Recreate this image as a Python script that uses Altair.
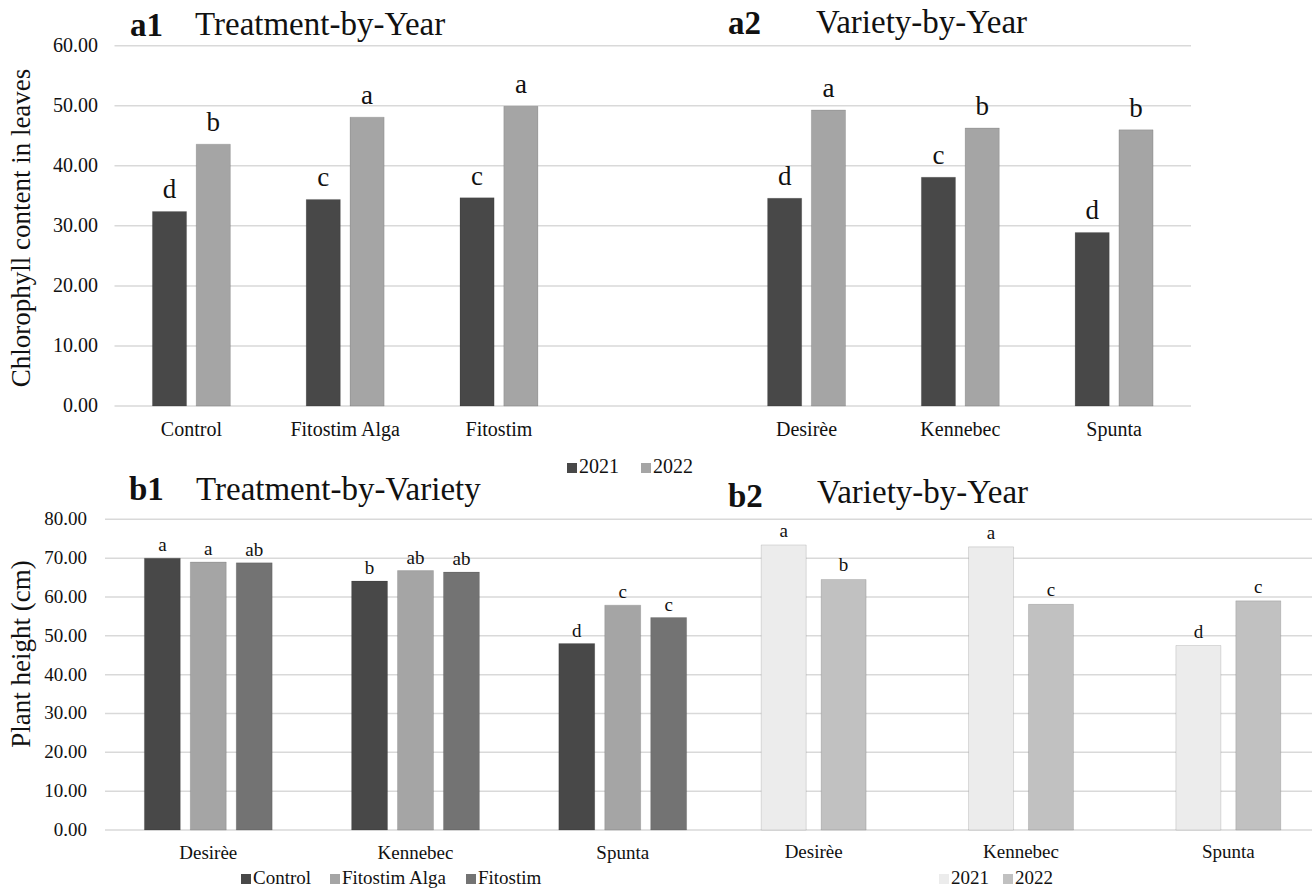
import altair as alt
import pandas as pd

FONT = "Liberation Serif"
INK = "#111111"
GRID = "#d9d9d9"

# ---- Panel a: chlorophyll content in leaves, 2021 vs 2022 ----
a_categories = ["Control", "Fitostim Alga", "Fitostim", "Desirèe", "Kennebec", "Spunta"]
a_years = ["2021", "2022"]
chl_2021 = [32.4, 34.4, 34.7, 34.6, 38.1, 28.9]
chl_2022 = [43.6, 48.1, 49.9, 49.3, 46.3, 46.0]
chl_letters_2021 = ["d", "c", "c", "d", "c", "d"]
chl_letters_2022 = ["b", "a", "a", "a", "b", "b"]
chl_ticks = [0, 10, 20, 30, 40, 50, 60]

# ---- Panel b1: plant height by variety and treatment ----
varieties = ["Desirèe", "Kennebec", "Spunta"]
treatments = ["Control", "Fitostim Alga", "Fitostim"]
ht_control = [70.0, 64.1, 48.0]
ht_alga = [69.0, 66.8, 57.9]
ht_fitostim = [68.8, 66.4, 54.7]
ht_letters_control = ["a", "b", "d"]
ht_letters_alga = ["a", "ab", "c"]
ht_letters_fitostim = ["ab", "ab", "c"]

# ---- Panel b2: plant height by variety and year ----
b_years = ["2021", "2022"]
ht_2021 = [73.4, 72.9, 47.5]
ht_2022 = [64.5, 58.1, 59.0]
ht_letters_2021 = ["a", "a", "d"]
ht_letters_2022 = ["b", "c", "c"]
ht_ticks = [0, 10, 20, 30, 40, 50, 60, 70, 80]


def long_table(cats, series_names, values, letters):
    rows = []
    for s, vals, lets in zip(series_names, values, letters):
        for c, v, l in zip(cats, vals, lets):
            rows.append({"cat": c, "series": s, "value": v, "letter": l})
    return pd.DataFrame(rows)


a_df = long_table(a_categories, a_years, [chl_2021, chl_2022],
                  [chl_letters_2021, chl_letters_2022])
b1_df = long_table(varieties, treatments, [ht_control, ht_alga, ht_fitostim],
                   [ht_letters_control, ht_letters_alga, ht_letters_fitostim])
b2_df = long_table(varieties, b_years, [ht_2021, ht_2022],
                   [ht_letters_2021, ht_letters_2022])

# a blank slot separates the treatment groups from the variety groups
a_domain = ["Control", "Fitostim Alga", "Fitostim", " ", "Desirèe", "Kennebec", "Spunta"]


def key(series, color_scale, x, y, size):
    """One legend entry: a small square in the series colour and its name."""
    df = pd.DataFrame({"series": [series]})
    swatch = alt.Chart(df).mark_square(size=100, opacity=1).encode(
        x=alt.value(x), y=alt.value(y + 1),
        color=alt.Color("series:N", scale=color_scale, legend=None))
    label = alt.Chart(df).mark_text(
        align="left", baseline="middle", font=FONT, fontSize=size, color=INK
    ).encode(x=alt.value(x + 7), y=alt.value(y), text="series:N")
    return [swatch, label]


def panel(df, x_scale, off_scale, y_scale, color_scale, keys,
          ticks, grid_x, tick_x, tick_size, cats, label_y, label_size,
          letter_size, letter_dy):
    tdf = pd.DataFrame({"v": ticks})
    grid = alt.Chart(tdf).mark_rule(color=GRID, strokeWidth=1.5).encode(
        y=alt.Y("v:Q", scale=y_scale, axis=None),
        x=alt.value(grid_x[0]), x2=alt.value(grid_x[1]))
    layers = [grid]
    if tick_x is not None:
        layers.append(alt.Chart(tdf).mark_text(
            align="right", baseline="middle", font=FONT, fontSize=tick_size, color=INK
        ).encode(y=alt.Y("v:Q", scale=y_scale, axis=None), x=alt.value(tick_x),
                 text=alt.Text("v:Q", format=".2f")))
    cat_labels = alt.Chart(pd.DataFrame({"cat": cats})).mark_text(
        baseline="middle", font=FONT, fontSize=label_size, color=INK
    ).encode(x=alt.X("cat:N", scale=x_scale, axis=None), y=alt.value(label_y), text="cat:N")
    base = alt.Chart(df).encode(
        x=alt.X("cat:N", scale=x_scale, axis=None),
        xOffset=alt.XOffset("series:N", scale=off_scale),
        y=alt.Y("value:Q", scale=y_scale, axis=None))
    bars = base.mark_bar(stroke="black", strokeOpacity=0.12, strokeWidth=1).encode(
        color=alt.Color("series:N", scale=color_scale, legend=None))
    letters = base.mark_text(baseline="alphabetic", dy=-letter_dy, font=FONT,
                             fontSize=letter_size, color=INK).encode(text="letter:N")
    key_layers = []
    for series, x, y, size in keys:
        key_layers += key(series, color_scale, x, y, size)
    return alt.layer(*layers, cat_labels, bars, letters, *key_layers)


a_colors = alt.Scale(domain=a_years, range=["#484848", "#a5a5a5"])
panel_a = panel(
    a_df,
    alt.Scale(domain=a_domain, range=[114.5, 1191], paddingInner=0.493, paddingOuter=0.2465),
    alt.Scale(domain=a_years, paddingInner=0.22, paddingOuter=0),
    alt.Scale(domain=[0, 60], range=[406, 45.7], nice=False),
    a_colors,
    [("2021", 572, 467, 20), ("2022", 646, 467, 20)],
    chl_ticks, (114.5, 1191), 98, 20, a_categories, 430, 20, 27, 13)

b1_colors = alt.Scale(domain=treatments, range=["#484848", "#a5a5a5", "#737373"])
panel_b1 = panel(
    b1_df,
    alt.Scale(domain=varieties, range=[105, 726], paddingInner=0.383, paddingOuter=0.19),
    alt.Scale(domain=treatments, paddingInner=0.217, paddingOuter=0),
    alt.Scale(domain=[0, 80], range=[830, 519.3], nice=False),
    b1_colors,
    [("Control", 246, 878, 19), ("Fitostim Alga", 335, 878, 19), ("Fitostim", 471, 878, 19)],
    ht_ticks, (105, 726), 87, 19, varieties, 853, 19, 19, 7)

b2_colors = alt.Scale(domain=b_years, range=["#ececec", "#c1c1c1"])
panel_b2 = panel(
    b2_df,
    alt.Scale(domain=varieties, range=[710, 1332], paddingInner=0.494, paddingOuter=0.247),
    alt.Scale(domain=b_years, paddingInner=0.249, paddingOuter=0),
    alt.Scale(domain=[0, 80], range=[830, 519.3], nice=False),
    b2_colors,
    [("2021", 944, 878, 19), ("2022", 1008, 878, 19)],
    ht_ticks, (726, 1312), None, 19, varieties, 852, 19, 19, 8)


def note(text, x, y, size, bold=False, angle=0, align="left", baseline="alphabetic"):
    return alt.Chart(pd.DataFrame({"t": [text]})).mark_text(
        font=FONT, fontSize=size, fontWeight="bold" if bold else "normal",
        color=INK, align=align, baseline=baseline, angle=angle
    ).encode(x=alt.value(x), y=alt.value(y), text="t:N")


notes = [
    note("a1", 130, 36, 33, bold=True),
    note("Treatment-by-Year", 195, 35, 33),
    note("a2", 728, 34, 33, bold=True),
    note("Variety-by-Year", 816, 33, 33),
    note("b1", 129, 500, 33, bold=True),
    note("Treatment-by-Variety", 196, 500, 33),
    note("b2", 728, 507, 33, bold=True),
    note("Variety-by-Year", 817, 503, 33),
    note("Chlorophyll content in leaves", 22, 228, 27, angle=270,
         align="center", baseline="middle"),
    note("Plant height (cm)", 22, 654, 27, angle=270,
         align="center", baseline="middle"),
]

chart = alt.layer(panel_a, panel_b1, panel_b2, *notes).resolve_scale(
    x="independent", y="independent", color="independent", xOffset="independent"
).properties(
    width=1312, height=891, padding=0,
    autosize=alt.AutoSizeParams(type="none"), background="white"
).configure_view(stroke=None)

chart.save("out.html", embed_options={"renderer": "svg", "actions": False})
